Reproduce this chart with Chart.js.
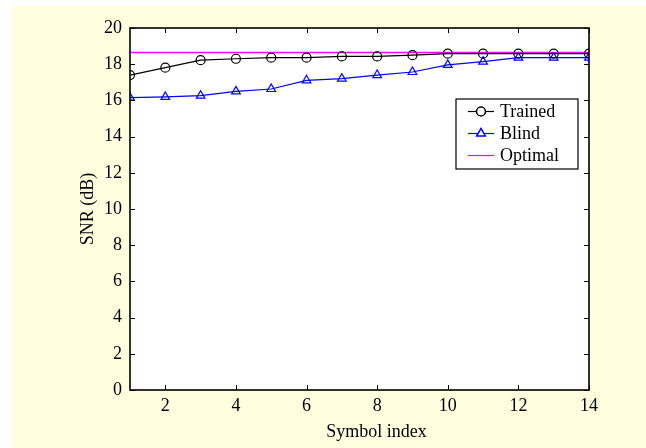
<!DOCTYPE html>
<html>
<head>
<meta charset="utf-8">
<script src="https://cdn.jsdelivr.net/npm/chart.js@4"></script>
<style>
  html, body { margin: 0; padding: 0; background: #ffffff; }
  #wrap { position: absolute; left: 12px; top: 6px; width: 634px; height: 442px; background: #ffffe0; }
  canvas { display: block; }
</style>
</head>
<body>
<div id="wrap"><canvas id="snr-chart" width="634" height="442"></canvas></div>
<script>
const symbolIndex = [1, 2, 3, 4, 5, 6, 7, 8, 9, 10, 11, 12, 13, 14];
const trainedSnr = [17.40, 17.81, 18.22, 18.30, 18.36, 18.36, 18.43, 18.43, 18.50, 18.58, 18.58, 18.58, 18.58, 18.58];
const blindSnr = [16.15, 16.19, 16.26, 16.50, 16.63, 17.11, 17.20, 17.40, 17.57, 17.96, 18.14, 18.36, 18.36, 18.36];
const optimalSnr = [18.65, 18.65];
const optimalIndex = [1, 14];
const xTicks = [2, 4, 6, 8, 10, 12, 14];
const yTicks = [0, 2, 4, 6, 8, 10, 12, 14, 16, 18, 20];

const serif = '"Liberation Serif", "Times New Roman", serif';

function toPoints(xs, ys) {
  return xs.map((x, i) => ({ x: x, y: ys[i] }));
}

// white plot area, box, inward ticks, axis titles and the boxed legend
const matlabLook = {
  id: 'matlabLook',
  beforeDatasetsDraw(chart) {
    const { ctx, chartArea: a } = chart;
    ctx.save();
    ctx.fillStyle = '#ffffff';
    ctx.fillRect(a.left, a.top, a.right - a.left, a.bottom - a.top);
    ctx.restore();
  },
  afterDatasetsDraw(chart) {
    const { ctx, chartArea: a, scales } = chart;
    ctx.save();
    ctx.strokeStyle = '#000000';
    ctx.lineWidth = 1;
    const t = 5;
    ctx.beginPath();
    xTicks.forEach(v => {
      const px = Math.round(scales.x.getPixelForValue(v)) + 0.5;
      ctx.moveTo(px, a.bottom); ctx.lineTo(px, a.bottom - t);
      ctx.moveTo(px, a.top); ctx.lineTo(px, a.top + t);
    });
    yTicks.forEach(v => {
      const py = Math.round(scales.y.getPixelForValue(v)) + 0.5;
      ctx.moveTo(a.left, py); ctx.lineTo(a.left + t, py);
      ctx.moveTo(a.right, py); ctx.lineTo(a.right - t, py);
    });
    ctx.stroke();

    ctx.lineWidth = 1.6;
    ctx.strokeRect(a.left, a.top, a.right - a.left, a.bottom - a.top);

    // axis titles
    ctx.fillStyle = '#000000';
    ctx.font = '18px ' + serif;
    ctx.textAlign = 'center';
    ctx.textBaseline = 'middle';
    ctx.fillText('Symbol index', (a.left + a.right) / 2 + 17, a.bottom + 42);
    ctx.save();
    ctx.translate(a.left - 42, (a.top + a.bottom) / 2);
    ctx.rotate(-Math.PI / 2);
    ctx.fillText('SNR (dB)', 0, 0);
    ctx.restore();

    // legend
    const bx = a.right - 133, by = a.top + 71, bw = 122, bh = 70;
    ctx.fillStyle = '#ffffff';
    ctx.fillRect(bx, by, bw, bh);
    ctx.lineWidth = 1.2;
    ctx.strokeStyle = '#000000';
    ctx.strokeRect(bx, by, bw, bh);
    chart.data.datasets.forEach((ds, i) => {
      const cy = by + 12.5 + i * 22;
      ctx.strokeStyle = ds.borderColor;
      ctx.lineWidth = 1.2;
      ctx.beginPath();
      ctx.moveTo(bx + 12, cy); ctx.lineTo(bx + 38, cy);
      ctx.stroke();
      if (ds.pointStyle && ds.pointRadius > 0) {
        ctx.fillStyle = '#ffffff';
        Chart.helpers.drawPoint(ctx, {
          pointStyle: ds.pointStyle, radius: ds.pointRadius, borderWidth: ds.pointBorderWidth
        }, bx + 25, cy);
        ctx.stroke();
      }
      ctx.fillStyle = '#000000';
      ctx.textAlign = 'left';
      ctx.font = '18px ' + serif;
      ctx.fillText(ds.label, bx + 44, cy + 1);
    });
    ctx.restore();
  }
};

new Chart(document.getElementById('snr-chart'), {
  type: 'line',
  data: {
    datasets: [
      {
        label: 'Trained',
        data: toPoints(symbolIndex, trainedSnr),
        borderColor: '#000000',
        backgroundColor: 'rgba(0,0,0,0)',
        borderWidth: 1.2,
        pointStyle: 'circle',
        pointRadius: 4.5,
        pointBorderWidth: 1.2,
        pointBackgroundColor: 'rgba(0,0,0,0)',
        pointBorderColor: '#000000'
      },
      {
        label: 'Blind',
        data: toPoints(symbolIndex, blindSnr),
        borderColor: '#0000ff',
        backgroundColor: 'rgba(0,0,0,0)',
        borderWidth: 1.2,
        pointStyle: 'triangle',
        pointRadius: 5,
        pointBorderWidth: 1.2,
        pointBackgroundColor: 'rgba(0,0,0,0)',
        pointBorderColor: '#0000ff'
      },
      {
        label: 'Optimal',
        data: toPoints(optimalIndex, optimalSnr),
        borderColor: '#ff00ff',
        backgroundColor: 'rgba(0,0,0,0)',
        borderWidth: 1.4,
        pointRadius: 0
      }
    ]
  },
  options: {
    responsive: false,
    animation: false,
    events: [],
    layout: { padding: { top: 22, right: 57, left: 0, bottom: 0 } },
    plugins: { legend: { display: false }, tooltip: { enabled: false } },
    scales: {
      x: {
        type: 'linear',
        min: 1,
        max: 14,
        grid: { display: false, drawTicks: false },
        border: { display: false },
        afterBuildTicks: scale => { scale.ticks = xTicks.map(v => ({ value: v })); },
        afterFit: scale => { scale.height = 58; },
        ticks: { color: '#000000', font: { family: serif, size: 18 }, padding: 5, maxRotation: 0 }
      },
      y: {
        min: 0,
        max: 20,
        grid: { display: false, drawTicks: false },
        border: { display: false },
        afterBuildTicks: scale => { scale.ticks = yTicks.map(v => ({ value: v })); },
        afterFit: scale => { scale.width = 118; },
        ticks: { color: '#000000', font: { family: serif, size: 18 }, padding: 8 }
      }
    }
  },
  plugins: [matlabLook]
});
</script>
</body>
</html>
